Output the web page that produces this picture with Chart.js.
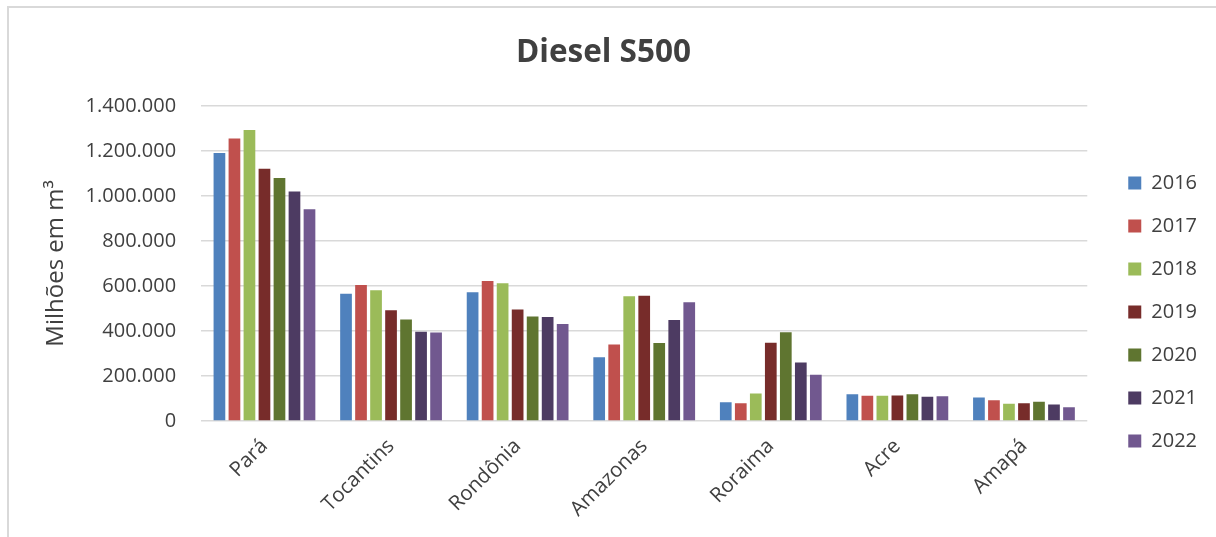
<!DOCTYPE html>
<html lang="pt-BR">
<head>
<meta charset="utf-8">
<title>Diesel S500</title>
<script src="https://cdn.jsdelivr.net/npm/chart.js@4.4.1/dist/chart.umd.min.js"></script>
<style>
  html, body { margin: 0; padding: 0; background: #fff; }
  #wrap { position: relative; width: 1216px; height: 537px; }
  #frame {
    position: absolute; left: 7px; top: 6px; right: 0; bottom: 0;
    border-top: 2px solid #d9d9d9; border-left: 2px solid #d9d9d9;
    pointer-events: none;
  }
</style>
</head>
<body>
<div id="wrap">
  <canvas id="chart"></canvas>
  <div id="frame"></div>
</div>
<script>
// estados da região Norte
const estados = ["Pará", "Tocantins", "Rondônia", "Amazonas", "Roraima", "Acre", "Amapá"];

// vendas de diesel S500 por ano
const ano2016 = [1190000, 565000, 572000, 283000, 84000, 119000, 105000];
const ano2017 = [1255000, 604000, 622000, 340000, 79000, 113000, 93000];
const ano2018 = [1292000, 581000, 612000, 554000, 123000, 113000, 77000];
const ano2019 = [1120000, 492000, 495000, 557000, 348000, 114000, 79000];
const ano2020 = [1079000, 451000, 464000, 347000, 394000, 119000, 86000];
const ano2021 = [1020000, 397000, 462000, 449000, 260000, 108000, 74000];
const ano2022 = [941000, 393000, 431000, 528000, 206000, 110000, 62000];

const anos = ["2016", "2017", "2018", "2019", "2020", "2021", "2022"];
const series = [ano2016, ano2017, ano2018, ano2019, ano2020, ano2021, ano2022];
const cores = ["#4F81BD", "#C0504D", "#9BBB59", "#772C2A", "#5F7530", "#4D3B62", "#71588F"];

const yMax = 1400000;
const yStep = 200000;

// separador de milhar com ponto
function milhar(v) {
  return String(v).replace(/\B(?=(\d{3})+(?!\d))/g, ".");
}

Chart.defaults.font.family = "'Open Sans', sans-serif";
Chart.defaults.color = "#404040";

const datasets = series.map((dados, i) => ({
  label: anos[i],
  data: dados,
  backgroundColor: cores[i],
  categoryPercentage: 0.83,
  barPercentage: 0.78
}));

new Chart(document.getElementById("chart"), {
  type: "bar",
  data: { labels: estados, datasets: datasets },
  options: {
    responsive: true,
    maintainAspectRatio: false,
    animation: false,
    layout: { padding: { left: 0, right: 9, top: 0, bottom: 2.3 } },
    plugins: {
      title: {
        display: true,
        text: "Diesel S500",
        font: { size: 31.5, weight: "bold" },
        color: "#404040",
        padding: { top: 34, bottom: 34 }
      },
      legend: {
        position: "right",
        align: "center",
        // espaço vazio só para empurrar os itens para baixo
        title: { display: true, text: "", font: { size: 12 }, padding: { top: 75, bottom: 0 } },
        labels: {
          boxWidth: 13,
          boxHeight: 13,
          padding: 23,
          font: { size: 20 },
          color: "#404040"
        }
      },
      tooltip: { enabled: false }
    },
    scales: {
      x: {
        grid: { display: false, drawTicks: false },
        border: { display: false },
        ticks: {
          minRotation: 45,
          maxRotation: 45,
          padding: 16,
          font: { size: 20.5, lineHeight: 0.8 },
          color: "#404040"
        }
      },
      y: {
        min: 0,
        max: yMax,
        grid: { color: "#d9d9d9", lineWidth: 1.5, drawTicks: false },
        border: { display: false },
        ticks: {
          stepSize: yStep,
          padding: 25,
          font: { size: 20 },
          color: "#404040",
          callback: v => milhar(v)
        },
        title: {
          display: true,
          text: "Milhões em m³",
          font: { size: 24 },
          color: "#404040",
          padding: { top: 42, bottom: 14 }
        }
      },
      // coluna vazia entre a área do gráfico e a legenda
      folga: {
        type: "linear",
        position: "right",
        display: true,
        grid: { display: false, drawTicks: false },
        border: { display: false },
        ticks: { display: false },
        afterFit: scale => { scale.width = 18; }
      }
    }
  }
});
</script>
</body>
</html>
